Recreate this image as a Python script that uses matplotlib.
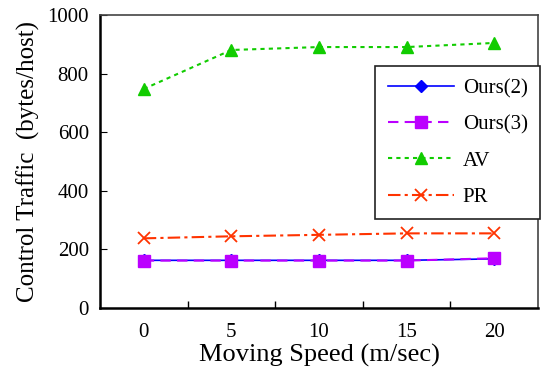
import matplotlib
matplotlib.use("Agg")
import matplotlib.pyplot as plt

speeds = ["0", "5", "10", "15", "20"]
ours2 = [163, 163, 163, 163, 168]
ours3 = [162, 162, 162, 162, 170]
av = [748, 881, 891, 891, 905]
pr = [238, 245, 250, 255, 255]

plt.rcParams['font.family'] = ['Liberation Serif', 'DejaVu Serif']

fig = plt.figure(figsize=(5.43, 3.78), dpi=100)
ax = fig.add_axes([0.184, 0.185, 0.807, 0.775])

x = list(range(len(speeds)))
ax.plot(x, ours2, color='#0000ff', lw=1.2, ls='-', marker='D', ms=6, label='Ours(2)')
ax.plot(x, ours3, color='#bb00ff', lw=1.5, ls=(0, (5, 3)), marker='s', ms=9, label='Ours(3)')
ax.plot(x, av, color='#11cc00', lw=1.5, ls=(0, (2, 2)), marker='^', ms=9, label='AV')
ax.plot(x, pr, color='#ff3300', lw=1.5, ls=(0, (6, 2, 1.5, 2)), marker='x', ms=8, mew=1.3, label='PR')

ax.set_xlim(-0.5, 4.5)
ax.set_ylim(0, 1000)
ax.set_xticks([0.5, 1.5, 2.5, 3.5])
ax.set_xticklabels([])
ax.set_xticks(x, minor=True)
ax.set_xticklabels(speeds, minor=True, fontsize=15)
ax.tick_params(axis='x', which='minor', length=0, pad=11)
ax.tick_params(axis='x', which='major', direction='in', length=5, width=1)
ax.set_yticks([0, 200, 400, 600, 800, 1000])
ax.tick_params(axis='y', direction='in', length=5, labelsize=15, pad=8)

for s in ['left', 'bottom']:
    ax.spines[s].set_linewidth(1.8)
for s in ['top', 'right']:
    ax.spines[s].set_linewidth(1.2)
    ax.spines[s].set_color('#444444')

ax.set_xlabel('Moving Speed (m/sec)', fontsize=19, labelpad=1)
ax.set_ylabel('Control Traffic  (bytes/host)', fontsize=18, labelpad=5)

leg = ax.legend(loc='upper right', bbox_to_anchor=(1.005, 0.826), fontsize=15,
                handlelength=3.2, labelspacing=0.8, handletextpad=0.4,
                borderpad=0.6, borderaxespad=0.0, fancybox=False, framealpha=1,
                edgecolor='#222222')
leg.get_frame().set_linewidth(1.2)

fig.savefig('out.png', dpi=100)
